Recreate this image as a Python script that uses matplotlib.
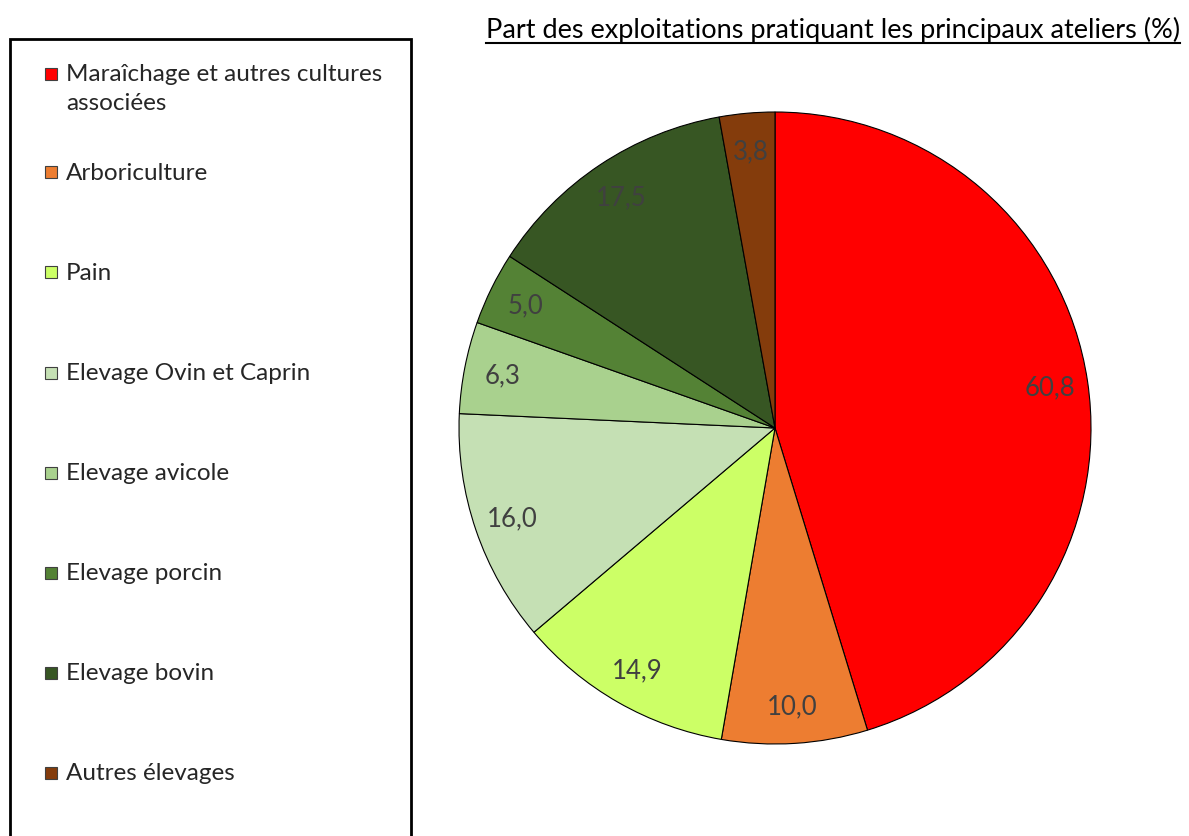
import matplotlib
matplotlib.use("Agg")
import matplotlib.pyplot as plt
from matplotlib.patches import Rectangle
from matplotlib.lines import Line2D

categories = ["Maraîchage et autres cultures\nassociées", "Arboriculture", "Pain",
              "Elevage Ovin et Caprin", "Elevage avicole", "Elevage porcin",
              "Elevage bovin", "Autres élevages"]
values = [60.8, 10.0, 14.9, 16.0, 6.3, 5.0, 17.5, 3.8]
colors = ["#FF0000", "#ED7D31", "#CCFF66", "#C5E0B4", "#A9D18E", "#548235",
          "#375623", "#843C0C"]
title = "Part des exploitations pratiquant les principaux ateliers (%)"

FONT = ["Lato", "DejaVu Sans"]
plt.rcParams['font.family'] = FONT

W, H = 1189, 837
fig = plt.figure(figsize=(W / 100, H / 100), dpi=100)

def fx(px):
    return px / W

def fy(py):
    return 1 - py / H

# pie
cx, cy, r = 775, 429, 316
ax = fig.add_axes([fx(cx - r), fy(cy + r), 2 * r / W, 2 * r / H])
total = sum(values)
wedges, texts, autotexts = ax.pie(
    values, colors=colors, startangle=90, counterclock=False,
    autopct=lambda p: f"{p * total / 100:.1f}".replace(".", ","),
    pctdistance=0.88, radius=1.0,
    wedgeprops=dict(edgecolor="black", linewidth=0.8),
    textprops=dict(color="#404040", fontsize=18.5))
ax.set_xlim(-1.0, 1.0)
ax.set_ylim(-1.0, 1.0)
ax.set_aspect("equal")
ax.axis("off")

# legend box
fig.patches.append(Rectangle((fx(10), fy(900)), fx(411) - fx(10), fy(40) - fy(900),
                             transform=fig.transFigure, fill=False,
                             edgecolor="black", linewidth=2))
ys = [75, 173, 273, 374, 474, 574, 674, 774]
for lab, col, y in zip(categories, colors, ys):
    fig.patches.append(Rectangle((fx(45), fy(y + 6)), 12 / W, 12 / H,
                                 transform=fig.transFigure, facecolor=col,
                                 edgecolor="#404040", linewidth=0.8))
    if "\n" in lab:
        fig.text(fx(66), fy(y - 11), lab, ha="left", va="top",
                 fontsize=17.5, color="#262626", linespacing=1.5)
    else:
        fig.text(fx(66), fy(y), lab, ha="left", va="center",
                 fontsize=17.5, color="#262626")

# title with underline
t = fig.text(fx(1180), fy(30), title, ha="right", va="center", fontsize=19.5, color="black")
fig.canvas.draw()
bb = t.get_window_extent(fig.canvas.get_renderer())
fig.lines.append(Line2D([bb.x0 / W, bb.x1 / W], [fy(44), fy(44)],
                        transform=fig.transFigure, color="black", linewidth=1.5))

fig.savefig("out.png", dpi=100)
